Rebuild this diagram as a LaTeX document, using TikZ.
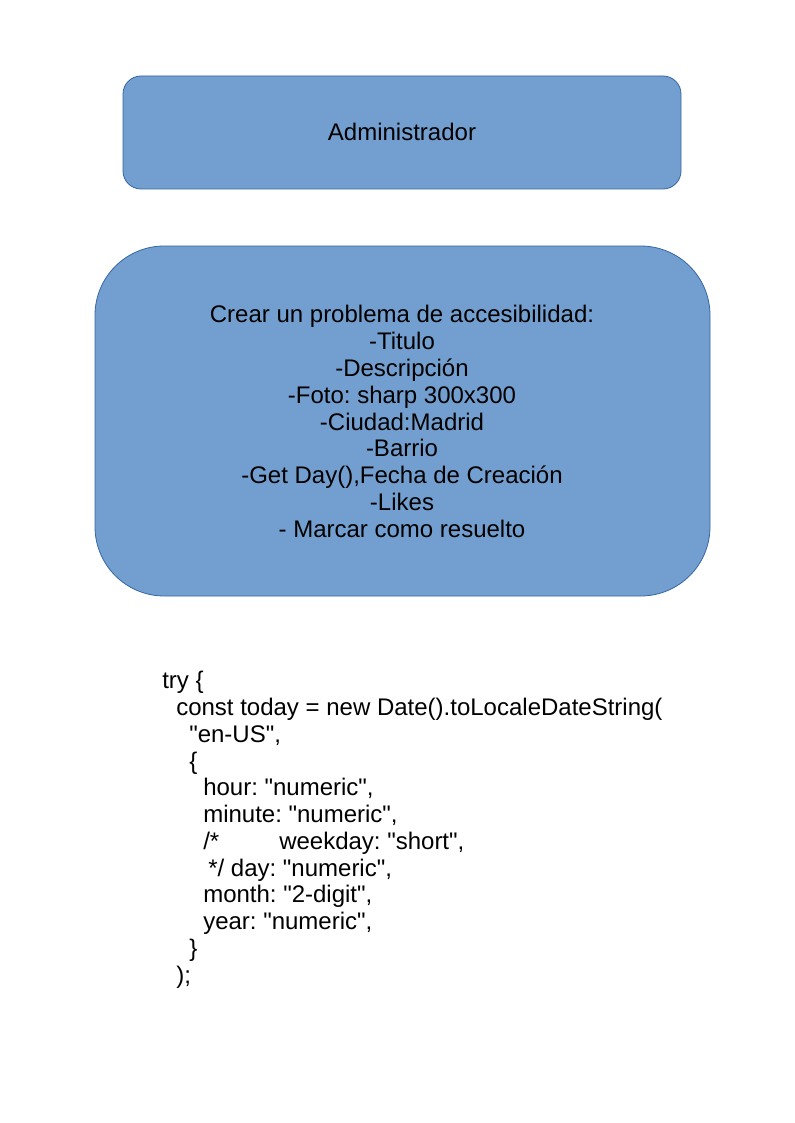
\documentclass[tikz,border=0pt]{standalone}
\usepackage{fontspec}
\setmainfont{Liberation Sans}[Ligatures=TeXOff]
\frenchspacing
\definecolor{boxfill}{HTML}{729FCF}
\definecolor{boxline}{HTML}{3465A4}
\begin{document}
\begin{tikzpicture}[x=0.75pt,y=-0.75pt,
  boxstyle/.style={fill=boxfill,draw=boxline,line width=0.6pt},
  txt/.style={font=\fontsize{18}{20.2}\selectfont\frenchspacing,inner sep=0pt},
  codeline/.style={txt,anchor=base west}]
\useasboundingbox (0,0) rectangle (794,1123);
\fill[white] (0,0) rectangle (794,1123);
\draw[boxstyle,rounded corners=13.5pt] (123,76) rectangle (681,189);
\node[txt,anchor=base] (admin) at (402,141) {Administrador};
\draw[boxstyle,rounded corners=52pt] (95,246) rectangle (710,596);
\node[txt,anchor=base] (l1) at (402,322) {Crear un problema de accesibilidad:};
\node[txt,anchor=base] (l2) at (402,349) {-Titulo};
\node[txt,anchor=base] (l3) at (402,376) {-Descripción};
\node[txt,anchor=base] (l4) at (402,403) {-Foto: sharp 300x300};
\node[txt,anchor=base] (l5) at (402,430) {-Ciudad:Madrid};
\node[txt,anchor=base] (l6) at (402,456) {-Barrio};
\node[txt,anchor=base] (l7) at (402,483) {-Get Day(),Fecha de Creación};
\node[txt,anchor=base] (l8) at (402,510) {-Likes};
\node[txt,anchor=base] (l9) at (402,537) {- Marcar como resuelto};
\node[codeline] (c1) at (162,688) {try \{};
\node[codeline] (c2) at (176,715) {const today = new Date().toLocaleDateString(};
\node[codeline] (c3) at (189,742) {"en-US",};
\node[codeline] (c4) at (189,769) {\{};
\node[codeline] (c5) at (203,795) {hour: "numeric",};
\node[codeline] (c6) at (203,822) {minute: "numeric",};
\node[codeline] (c7) at (203,849) {/*};
\node[codeline] (c7b) at (279,849) {weekday: "short",};
\node[codeline] (c8) at (208,876) {*/ day: "numeric",};
\node[codeline] (c9) at (203,902) {month: "2-digit",};
\node[codeline] (c10) at (203,929) {year: "numeric",};
\node[codeline] (c11) at (189,956) {\}};
\node[codeline] (c12) at (176,983) {);};
\end{tikzpicture}
\end{document}
